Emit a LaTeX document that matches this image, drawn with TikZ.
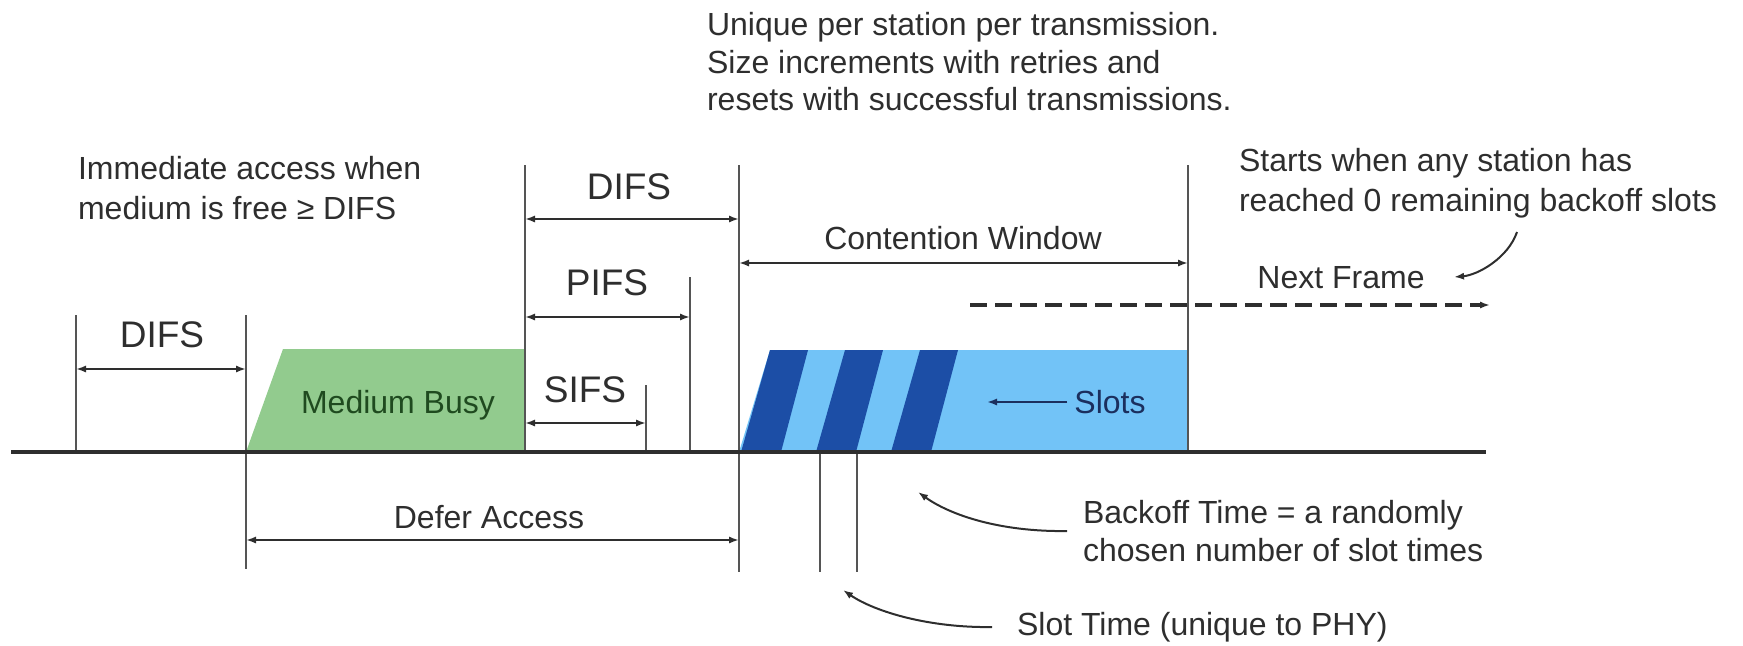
\documentclass[tikz,border=0pt]{standalone}
\usepackage{xcolor}
\usepackage{fontspec}
\setmainfont{Liberation Sans}
\usetikzlibrary{arrows.meta}

\definecolor{inkgray}{HTML}{2E2E2E}
\definecolor{tickgray}{HTML}{555555}
\definecolor{busygreen}{HTML}{92CB8E}
\definecolor{busytext}{HTML}{1F4A1F}
\definecolor{slotlight}{HTML}{72C3F7}
\definecolor{slotdark}{HTML}{1C4EA6}
\definecolor{slotnavy}{HTML}{1B2F5E}

\tikzset{
  tick/.style={draw=tickgray,line width=1pt},
  dim/.style={<->,draw=inkgray,line width=1pt},
  note/.style={text=inkgray,align=left,anchor=west,font=\fontsize{16}{20}\selectfont},
  ifs/.style={text=inkgray,font=\fontsize{18.5}{22}\selectfont},
  boxtext/.style={font=\fontsize{16}{20}\selectfont}
}

\begin{document}
\begin{tikzpicture}[x=0.5pt,y=-0.5pt,>={Latex[length=5pt,width=3.6pt]}]
\useasboundingbox (0,0) rectangle (1743,645);

% boxes on the medium
\fill[busygreen] (246,452) -- (283,349) -- (525,349) -- (525,452) -- cycle;
\fill[slotlight] (739,452) -- (770,350) -- (1188,350) -- (1188,452) -- cycle;
\foreach \k in {0,1,2}
  \fill[slotdark] (741+75*\k,452) -- (770+75*\k,350) -- (808+75*\k,350) -- (781+75*\k,452) -- cycle;
\node[boxtext,text=busytext] (busy) at (398,405) {Medium Busy};
\node[boxtext,text=slotnavy] (slots) at (1110,402) {Slots};
\coordinate (slotsend) at (987,402);
\draw[->,draw=slotnavy,line width=1pt] (slots.west) -- (slotsend);

% time marks
\coordinate (a) at (76,452);
\coordinate (b) at (246,452);
\coordinate (c) at (525,452);
\coordinate (d) at (646,452);
\coordinate (e) at (690,452);
\coordinate (f) at (739,452);
\coordinate (g) at (1188,452);
\draw[tick] (76,315) -- (a);
\draw[tick] (246,315) -- (246,569);
\draw[tick] (525,165) -- (c);
\draw[tick] (646,385) -- (d);
\draw[tick] (690,277) -- (e);
\draw[tick] (739,165) -- (739,572);
\draw[tick] (1188,165) -- (g);
\draw[tick] (820,452) -- (820,572);
\draw[tick] (857,452) -- (857,572);

% medium
\draw[draw=inkgray,line width=2.3pt] (11,452) -- (1486,452);

% intervals
\draw[dim] (76,369) -- (246,369);
\node[ifs] (difsA) at (162,335) {DIFS};
\draw[dim] (525,219) -- (739,219);
\node[ifs] (difsB) at (629,187) {DIFS};
\draw[dim] (525,317) -- (690,317);
\node[ifs] (pifs) at (607,283) {PIFS};
\draw[dim] (525,423) -- (646,423);
\node[ifs] (sifs) at (585,390) {SIFS};
\draw[dim] (739,263) -- (1188,263);
\node[boxtext,text=inkgray] (cw) at (963,238) {Contention Window};
\draw[dim] (246,540) -- (739,540);
\node[boxtext,text=inkgray] (defer) at (489,517) {Defer Access};

% next frame
\coordinate (nfa) at (970,305);
\coordinate (nfb) at (1490,305);
\draw[->,draw=inkgray,line width=2pt,dash pattern=on 8.5pt off 4pt] (nfa) -- (nfb);
\node[boxtext,text=inkgray] (next) at (1341,278) {Next Frame};

% notes
\node[note] (immediate) at (71,188) {Immediate access when\\medium is free ≥ DIFS};
\node[note,font=\fontsize{16}{18.75}\selectfont] (unique) at (700,62) {Unique per station per transmission.\\Size increments with retries and\\resets with successful transmissions.};
\node[note] (starts) at (1232,183) {Starts when any station has\\reached 0 remaining backoff slots};
\node[note,font=\fontsize{16}{19}\selectfont] (backoff) at (1076,531) {Backoff Time = a randomly\\chosen number of slot times};
\node[note] (slottime) at (1010,627) {Slot Time (unique to PHY)};

\coordinate (startsend) at (1454,277);
\draw[->,draw=inkgray,line width=1pt] (1517,232) .. controls (1508,258) and (1478,275) .. (startsend);
\coordinate (backoffend) at (918,492);
\draw[->,draw=inkgray,line width=1pt] ([xshift=-4.5pt]backoff.west) .. controls (1000,532) and (950,515) .. (backoffend);
\coordinate (slotend) at (843,590);
\draw[->,draw=inkgray,line width=1pt] ([xshift=-9pt]slottime.west) .. controls (930,628) and (875,612) .. (slotend);
\end{tikzpicture}
\end{document}
